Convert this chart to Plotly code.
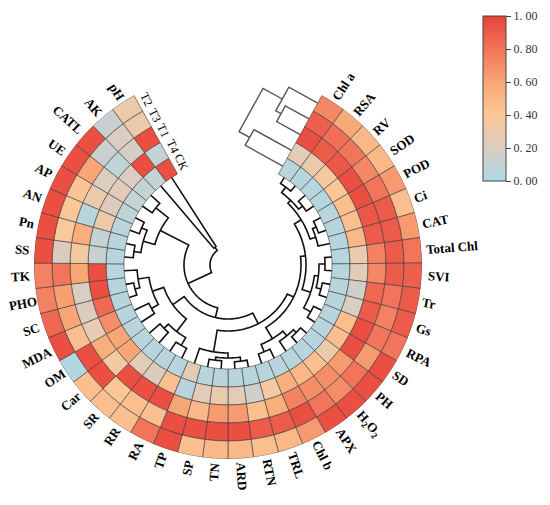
import numpy as np
import plotly.graph_objects as go

# variables around the circle, clockwise from the top right
variables = ["Chl a", "RSA", "RV", "SOD", "POD", "Ci", "CAT", "Total Chl", "SVI", "Tr",
             "Gs", "RPA", "SD", "PH", "H2O2", "APX", "Chl b", "TRL", "RTN", "ARD",
             "TN", "SP", "TP", "RA", "RR", "SR", "Car", "OM", "MDA", "SC",
             "PHO", "TK", "SS", "Pn", "AN", "AP", "UE", "CATL", "AK", "pH"]
label_text = {"H2O2": "H<sub>2</sub>O<sub>2</sub>"}

# rings, inner to outer
treatments = ["CK", "T4", "T1", "T3", "T2"]

ck = [0.05, 0.04, 0.04, 0.04, 0.05, 0.05, 0.04, 0.04, 0.05, 0.05,
      0.05, 0.05, 0.05, 0.05, 0.05, 0.05, 0.05, 0.05, 0.05, 0.05,
      0.05, 0.05, 0.25, 0.05, 0.05, 0.05, 0.05, 0.05, 0.05, 0.05,
      0.05, 0.05, 0.05, 0.05, 0.06, 0.08, 0.10, 0.10, 0.10, 0.95]
t4 = [0.25, 0.30, 0.35, 0.40, 0.45, 0.45, 0.50, 0.28, 0.25, 0.15,
      0.20, 0.45, 0.45, 0.30, 0.45, 0.50, 0.55, 0.35, 0.15, 0.25,
      0.30, 0.25, 0.05, 0.45, 0.22, 0.25, 0.60, 0.60, 0.70, 0.85,
      0.95, 0.95, 0.12, 0.10, 0.32, 0.22, 0.25, 0.20, 0.95, 0.10]
t1 = [0.95, 0.90, 0.92, 0.95, 0.95, 0.92, 0.90, 0.75, 0.72, 0.85,
      0.90, 0.95, 0.95, 0.65, 0.70, 0.70, 0.75, 0.55, 0.45, 0.65,
      0.65, 0.50, 0.60, 0.95, 0.95, 0.95, 0.35, 0.55, 0.28, 0.22,
      0.20, 0.60, 0.35, 0.55, 0.05, 0.30, 0.20, 0.08, 0.18, 0.95]
t3 = [0.88, 0.82, 0.80, 0.72, 0.80, 0.90, 0.90, 0.90, 0.90, 0.80,
      0.75, 0.80, 0.65, 0.80, 0.70, 0.80, 0.95, 0.90, 0.90, 0.95,
      0.95, 0.95, 0.95, 0.45, 0.45, 0.40, 0.95, 0.95, 0.45, 0.60,
      0.62, 0.80, 0.22, 0.38, 0.40, 0.42, 0.60, 0.12, 0.20, 0.30]
t2 = [0.72, 0.58, 0.50, 0.50, 0.65, 0.45, 0.65, 0.80, 0.88, 0.90,
      0.90, 0.80, 0.95, 0.95, 0.95, 0.95, 0.65, 0.50, 0.45, 0.50,
      0.50, 0.45, 0.95, 0.80, 0.45, 0.45, 0.45, 0.03, 0.95, 0.85,
      0.75, 0.75, 0.95, 0.95, 0.95, 0.95, 0.95, 0.95, 0.12, 0.30]
ring_values = [ck, t4, t1, t3, t2]

# row dendrogram merges (leaf ids 0-39, new nodes from 40), merge radius
row_merge_a = [0, 2, 40, 4, 43, 42, 7, 9, 46, 11, 48, 45, 13, 52, 16, 53, 51, 18, 20, 57,
               59, 56, 23, 25, 62, 27, 29, 66, 65, 64, 61, 32, 34, 71, 36, 73, 70, 38, 76]
row_merge_b = [1, 3, 41, 5, 6, 44, 8, 10, 47, 12, 49, 50, 14, 15, 17, 54, 55, 19, 21, 58,
               22, 60, 24, 26, 63, 28, 30, 31, 67, 68, 69, 33, 35, 72, 37, 74, 75, 39, 77]
row_merge_r = [97, 95, 90, 96, 92, 86, 97, 96, 91, 95, 87, 78, 96, 92, 94, 86, 73, 97, 96, 93,
               88, 66, 93, 90, 84, 88, 96, 91, 80, 68, 54, 95, 94, 88, 92, 76, 44, 22, 18]

# column dendrogram (leaf ids follow treatments), distance from the heatmap edge
col_merge_a = [3, 4, 1, 6]
col_merge_b = [2, 5, 0, 7]
col_merge_h = [27, 33, 43, 55]

colorscale = [[0.0, "#add8e6"], [0.2, "#dacdc1"], [0.4, "#fcc797"],
              [0.6, "#f8a676"], [0.8, "#f2745a"], [1.0, "#e8433a"]]

# the page body adds an 8px margin, so the figure is a little smaller
PAD = 8
W, H = 550 - PAD, 505 - PAD
cx, cy = 228 - PAD, 265 - PAD
r_in, ring_w = 104, 18
r_out = r_in + ring_w * len(treatments)
theta_start, theta_end = 29.0, 331.0
step = (theta_end - theta_start) / len(variables)
theta = [theta_start + step * (i + 0.5) for i in range(len(variables))]

fig = go.Figure()

for j, vals in enumerate(ring_values):
    fig.add_trace(go.Barpolar(
        r=[ring_w] * len(variables),
        base=r_in + ring_w * j,
        theta=theta,
        width=step,
        marker=dict(color=vals, coloraxis="coloraxis",
                    line=dict(color="#3a3a3a", width=0.6)),
        hoverinfo="skip",
    ))

# row dendrogram
node_t = {i: theta[i] for i in range(len(variables))}
node_r = {i: r_in for i in range(len(variables))}
rr, tt = [], []
for k, (a, b, h) in enumerate(zip(row_merge_a, row_merge_b, row_merge_r)):
    ta, tb = node_t[a], node_t[b]
    n = int(abs(tb - ta)) + 2
    arc_t = list(np.linspace(ta, tb, n))
    rr += [node_r[a]] + [h] * n + [node_r[b], None]
    tt += [ta] + arc_t + [tb, None]
    node_t[len(variables) + k] = (ta + tb) / 2
    node_r[len(variables) + k] = h

fig.add_trace(go.Scatterpolar(r=rr, theta=tt, mode="lines",
                              line=dict(color="#111111", width=1.6),
                              hoverinfo="skip"))

# column dendrogram, drawn beside the first column
th0 = np.deg2rad(theta_start)


def edge_to_polar(r, h):
    x = r * np.sin(th0) - h * np.cos(th0)
    y = r * np.cos(th0) + h * np.sin(th0)
    return float(np.hypot(x, y)), float(np.degrees(np.arctan2(x, y)) % 360)


cpos = {j: r_in + ring_w * (j + 0.5) for j in range(len(treatments))}
chgt = {j: 0 for j in range(len(treatments))}
cr, ct = [], []
for k, (a, b, h) in enumerate(zip(col_merge_a, col_merge_b, col_merge_h)):
    for (r, hh) in [(cpos[a], chgt[a]), (cpos[a], h), (cpos[b], h), (cpos[b], chgt[b])]:
        pr, pt = edge_to_polar(r, hh)
        cr.append(pr)
        ct.append(pt)
    cr.append(None)
    ct.append(None)
    cpos[len(treatments) + k] = (cpos[a] + cpos[b]) / 2
    chgt[len(treatments) + k] = h

fig.add_trace(go.Scatterpolar(r=cr, theta=ct, mode="lines",
                              line=dict(color="#555555", width=1.4),
                              hoverinfo="skip"))


def text_w(s, fs):
    w = 0
    for ch in s:
        if ch == " ":
            w += 0.25
        elif ch in "il":
            w += 0.28
        elif ch in "trfj":
            w += 0.36
        elif ch.isdigit():
            w += 0.42
        elif ch.isupper():
            w += 0.7
        else:
            w += 0.52
    return w * fs


def to_paper(r, t):
    a = np.deg2rad(t)
    return (cx + r * np.sin(a)) / W, 1 - (cy - r * np.cos(a)) / H


annotations = []
for name, t in zip(variables, theta):
    w = text_w(name, 13)
    r_start = r_out + 4
    # keep the far end of the label inside the page
    sx = abs(np.sin(np.deg2rad(t)))
    r_start = min(r_start, (cx - 2) / max(sx, 1e-6) - w) if t > 180 else r_start
    rc = r_start + w / 2
    x, y = to_paper(rc, t)
    ang = t - 90 if t < 180 else t - 270
    annotations.append(dict(
        x=x, y=y, xref="paper", yref="paper", showarrow=False,
        text=label_text.get(name, name), textangle=ang,
        xanchor="center", yanchor="middle",
        font=dict(family="Liberation Serif", size=13, color="black", weight="bold"),
    ))

for j, name in enumerate(treatments):
    r = r_in + ring_w * (j + 0.5)
    t = theta_end + np.degrees(9 / r)
    x, y = to_paper(r, t)
    annotations.append(dict(
        x=x, y=y, xref="paper", yref="paper", showarrow=False,
        text=name, textangle=t - 270, xanchor="center", yanchor="middle",
        font=dict(family="Liberation Serif", size=12, color="black"),
    ))

tick_vals = [0, 0.2, 0.4, 0.6, 0.8, 1.0]
tick_text = ["0. 00", "0. 20", "0. 40", "0. 60", "0. 80", "1. 00"]

fig.update_layout(
    width=W, height=H,
    margin=dict(l=0, r=0, t=0, b=0, autoexpand=False),
    paper_bgcolor="white",
    showlegend=False,
    dragmode=False,
    annotations=annotations,
    polar=dict(
        domain=dict(x=[(cx - r_out) / W, (cx + r_out) / W],
                    y=[1 - (cy + r_out) / H, 1 - (cy - r_out) / H]),
        bgcolor="rgba(0,0,0,0)",
        bargap=0,
        hole=0,
        radialaxis=dict(range=[0, r_out], visible=False),
        angularaxis=dict(rotation=90, direction="clockwise", visible=False),
    ),
    coloraxis=dict(
        colorscale=colorscale, cmin=0, cmax=1,
        colorbar=dict(
            x=(483 - PAD) / W, xanchor="left", y=1 - (16 - PAD) / H, yanchor="top",
            len=165 / H, lenmode="fraction", thickness=23,
            xpad=0, ypad=0,
            outlinewidth=1, outlinecolor="#444444",
            tickvals=tick_vals, ticktext=tick_text,
            ticks="outside", ticklen=5, tickcolor="#444444",
            tickfont=dict(family="Liberation Serif", size=12, color="#333333"),
        ),
    ),
)

fig.write_html("out.html", config={"displayModeBar": False})
